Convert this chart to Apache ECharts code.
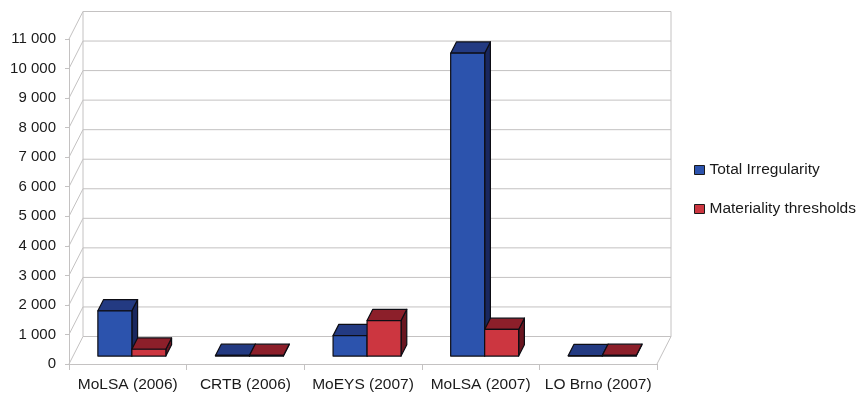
<!DOCTYPE html>
<html>
<head>
<meta charset="utf-8">
<title>Total Irregularity vs Materiality thresholds</title>
<script src="https://cdn.jsdelivr.net/npm/echarts@6/dist/echarts.min.js"></script>
<style>
  html, body { margin: 0; padding: 0; background: #ffffff; }
  #chart { width: 859px; height: 394px; }
</style>
</head>
<body>
<div id="chart"></div>
<script>
// Audited bodies
const categories = ['MoLSA (2006)', 'CRTB (2006)', 'MoEYS (2007)', 'MoLSA (2007)', 'LO Brno (2007)'];
// Values per body
const totalIrregularity = [1530, 20, 690, 10250, 15];
const materialityThresholds = [230, 20, 1200, 900, 20];
// Value axis ticks
const yTicks = [0, 1000, 2000, 3000, 4000, 5000, 6000, 7000, 8000, 9000, 10000, 11000];

// Oblique projection of the chart box: offset from the front plane to the back wall
const DEPTH_DX = 14;
const DEPTH_DY = -27.5;
// Bars occupy the middle of the box depth
const BAR_FRONT = 0.29;
const BAR_BACK = 0.70;
const BAR_FRACTION = 0.289; // width of one bar relative to a category band

const GRID_COLOR = '#c4c2c2';
const TEXT_COLOR = '#1a1a1a';

const palettes = [
  { front: '#2c53ad', top: '#233a82', side: '#19275e' },
  { front: '#cc3640', top: '#8c1f2a', side: '#6a1620' }
];

function fmt(v) {
  return String(v).replace(/\B(?=(\d{3})+(?!\d))/g, ' ');
}

// Back wall, left side wall and floor outline
function renderWalls(params, api) {
  const cs = params.coordSys;
  const v = api.value(1);
  const y = api.coord([0, v])[1];
  const left = cs.x;
  const right = cs.x + cs.width;
  const lineStyle = { stroke: GRID_COLOR, lineWidth: 1 };
  const children = [
    { type: 'line', shape: { x1: left, y1: y, x2: left + DEPTH_DX, y2: y + DEPTH_DY }, style: lineStyle },
    { type: 'line', shape: { x1: left + DEPTH_DX, y1: y + DEPTH_DY, x2: right + DEPTH_DX, y2: y + DEPTH_DY }, style: lineStyle }
  ];
  if (params.dataIndex === 0) {
    const yTop = api.coord([0, yTicks[yTicks.length - 1]])[1];
    children.push(
      { type: 'line', shape: { x1: left + DEPTH_DX, y1: y + DEPTH_DY, x2: left + DEPTH_DX, y2: yTop + DEPTH_DY }, style: lineStyle },
      { type: 'line', shape: { x1: right + DEPTH_DX, y1: y + DEPTH_DY, x2: right + DEPTH_DX, y2: yTop + DEPTH_DY }, style: lineStyle },
      { type: 'line', shape: { x1: right, y1: y, x2: right + DEPTH_DX, y2: y + DEPTH_DY }, style: lineStyle }
    );
  }
  return { type: 'group', children: children };
}

// 3D-looking column: front face, top face, right side face
function makeBarRenderer(slot) {
  const pal = palettes[slot];
  return function (params, api) {
    const idx = api.value(0);
    const val = api.value(1);
    const base = api.coord([idx, 0]);
    const topPt = api.coord([idx, val]);
    const band = api.size([1, 0])[0];
    const w = band * BAR_FRACTION;
    const x0 = base[0] - w + slot * w;
    const y0 = base[1];
    const y1 = topPt[1];
    const fx = BAR_FRONT * DEPTH_DX, fy = BAR_FRONT * DEPTH_DY;
    const bx = BAR_BACK * DEPTH_DX, by = BAR_BACK * DEPTH_DY;
    const edge = { stroke: '#0d0d14', lineWidth: 1.2, lineJoin: 'round' };
    return {
      type: 'group',
      children: [
        {
          type: 'polygon',
          shape: { points: [[x0 + w + fx, y1 + fy], [x0 + w + bx, y1 + by], [x0 + w + bx, y0 + by], [x0 + w + fx, y0 + fy]] },
          style: Object.assign({ fill: pal.side }, edge)
        },
        {
          type: 'polygon',
          shape: { points: [[x0 + fx, y1 + fy], [x0 + w + fx, y1 + fy], [x0 + w + bx, y1 + by], [x0 + bx, y1 + by]] },
          style: Object.assign({ fill: pal.top }, edge)
        },
        {
          type: 'rect',
          shape: { x: x0 + fx, y: y1 + fy, width: w, height: Math.max(0, y0 - y1) },
          style: Object.assign({ fill: pal.front }, edge)
        }
      ]
    };
  };
}

const chart = echarts.init(document.getElementById('chart'), null, { renderer: 'canvas' });

chart.setOption({
  animation: false,
  backgroundColor: '#ffffff',
  textStyle: { fontFamily: 'Liberation Sans, Arial, sans-serif' },
  grid: { left: 69, right: 202, top: 39, bottom: 30 },
  legend: {
    orient: 'vertical',
    left: 694,
    top: 162,
    padding: 0,
    itemWidth: 10,
    itemHeight: 9,
    itemGap: 23,
    icon: 'rect',
    data: ['Total Irregularity', 'Materiality thresholds'],
    itemStyle: { borderColor: '#1a1a1a', borderWidth: 1 },
    textStyle: { color: TEXT_COLOR, fontSize: 15.5, lineHeight: 16, fontFamily: 'Liberation Sans, Arial, sans-serif' }
  },
  xAxis: {
    type: 'category',
    data: categories,
    boundaryGap: true,
    axisLine: { show: true, lineStyle: { color: GRID_COLOR, width: 1 } },
    axisTick: { show: true, length: 6, lineStyle: { color: GRID_COLOR } },
    axisLabel: { color: TEXT_COLOR, fontSize: 15.5, margin: 13, interval: 0 },
    splitLine: { show: false }
  },
  yAxis: {
    type: 'value',
    min: 0,
    max: 11000,
    interval: 1000,
    axisLine: { show: true, lineStyle: { color: GRID_COLOR, width: 1 } },
    axisTick: { show: true, length: 4, lineStyle: { color: GRID_COLOR } },
    axisLabel: { color: TEXT_COLOR, fontSize: 15, margin: 13, formatter: fmt },
    splitLine: { show: false }
  },
  series: [
    {
      name: 'walls',
      type: 'custom',
      z: 1,
      silent: true,
      renderItem: renderWalls,
      data: yTicks.map(function (v) { return [0, v]; })
    },
    {
      name: 'Total Irregularity',
      type: 'custom',
      z: 2,
      itemStyle: { color: palettes[0].front },
      renderItem: makeBarRenderer(0),
      data: totalIrregularity.map(function (v, i) { return [i, v]; })
    },
    {
      name: 'Materiality thresholds',
      type: 'custom',
      z: 3,
      itemStyle: { color: palettes[1].front },
      renderItem: makeBarRenderer(1),
      data: materialityThresholds.map(function (v, i) { return [i, v]; })
    }
  ]
});
</script>
</body>
</html>
